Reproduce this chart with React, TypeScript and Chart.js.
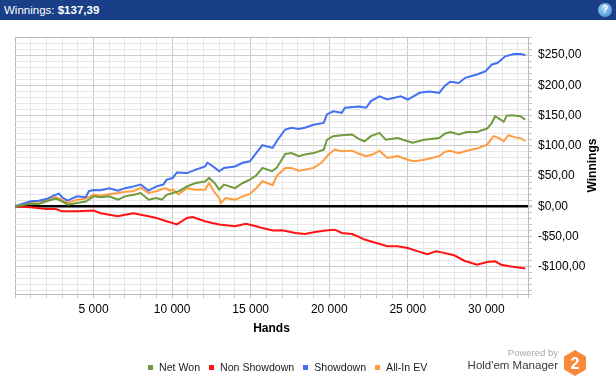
import React, { useEffect, useRef } from "react";
import { Chart, registerables } from "chart.js";

Chart.register(...registerables);

const FONT = '"Liberation Sans", Arial, sans-serif';

const seriesLabels = ["Net Won", "Non Showdown", "Showdown", "All-In EV"];
const seriesColors = ["#6f9b3c", "#ff1212", "#4170f2", "#ff9c40"];

const netWonHands = [0, 1000, 1500, 2000, 2600, 3000, 3350, 3950, 4500, 5000, 5450, 6000, 6550, 7000, 7550, 8000, 8500, 9000, 9350, 9650, 10050, 10500, 10950, 11500, 12100, 12350, 12700, 13000, 13300, 14000, 14500, 14950, 15350, 15750, 16350, 16650, 17200, 17600, 18050, 18450, 19000, 19650, 19850, 20250, 20800, 21450, 21900, 22250, 22650, 23200, 23600, 24350, 25000, 25300, 26050, 27000, 27350, 27700, 28250, 28750, 29400, 30050, 30350, 30550, 30900, 31100, 31300, 31650, 32150, 32480];
const netWonValues = [0, 4.4, 3.9, 8.3, 12.7, 8.3, 2.8, 5.5, 8, 16.5, 15, 16.5, 11, 16.5, 19, 22, 11, 13.8, 11, 19, 22, 26, 33, 38.6, 41, 47, 38.6, 27.6, 36, 30, 38.6, 44, 51, 63.5, 58, 63.5, 86.7, 88, 83, 85.6, 88, 93.8, 110, 116, 117.6, 118.7, 111, 107.6, 116, 121.4, 110, 113, 107.6, 105, 110, 113, 120, 123, 118.7, 123, 123, 128.6, 138, 149, 143.5, 139.7, 150, 150.7, 149, 143.5];

const nonShowdownHands = [0, 1000, 2000, 2600, 3000, 4000, 5000, 5450, 6000, 6550, 7000, 7550, 8000, 8500, 9000, 9650, 10300, 10600, 10950, 11300, 12100, 12550, 13000, 14000, 14700, 15350, 15750, 16400, 17000, 17850, 18450, 19100, 19750, 20350, 20800, 21450, 21850, 22250, 23000, 23700, 24350, 25000, 25650, 26250, 26800, 27300, 27950, 28600, 29400, 30050, 30550, 30950, 31450, 32050, 32480];
const nonShowdownValues = [0, -1.7, -4.4, -4.4, -8.3, -8.3, -7, -11.5, -13.8, -16.5, -13.8, -11.6, -13.8, -16.5, -19.3, -24.8, -30, -25, -19.3, -17.7, -24.8, -27.6, -30, -33, -28.7, -33, -36, -40, -39.7, -44, -45.8, -42.5, -40, -38.6, -44, -45.8, -50, -55, -60.7, -66, -66, -69, -74.5, -79, -74.5, -77, -81, -90, -96.6, -92, -91, -96.6, -99, -101, -103];

const showdownHands = [0, 1000, 1500, 2000, 2500, 2800, 3000, 3350, 3550, 3950, 4500, 4700, 5000, 5450, 6000, 6550, 7000, 7550, 8000, 8500, 9000, 9450, 9650, 10050, 10300, 10950, 11500, 12100, 12250, 12600, 13000, 13300, 14000, 14500, 14950, 15350, 15750, 16400, 16650, 17200, 17600, 18050, 18450, 19000, 19650, 19850, 20250, 20800, 21000, 21900, 22350, 22650, 23200, 23700, 24550, 25000, 25750, 26350, 27000, 27350, 27700, 28250, 28650, 29400, 29950, 30350, 30700, 31200, 31750, 32200, 32480];
const showdownValues = [0, 8.3, 9.4, 12, 18, 21, 15, 9.4, 12, 16.5, 15, 25, 27, 26.5, 30, 26, 30, 33, 36, 26, 33, 36, 44, 47, 56, 55, 60.7, 66, 72, 66, 58, 63.5, 66, 72, 74.5, 88, 101, 96.6, 107.6, 127, 130, 128, 130, 135, 138, 152, 157, 154.6, 163, 165, 163, 174, 182, 176.6, 182, 176.6, 187.7, 190, 187.7, 199, 206, 204, 212.5, 218, 223.6, 234.6, 237, 248, 252, 252, 250];

const allInEvHands = [0, 1000, 2000, 2600, 3000, 3350, 3950, 4500, 5000, 5450, 6000, 6550, 7000, 7550, 8000, 8500, 9000, 9550, 9850, 10050, 10400, 10950, 11500, 12100, 12350, 12700, 13000, 13100, 13400, 14000, 14500, 14950, 15350, 15750, 16400, 16650, 17200, 17600, 18050, 18450, 19000, 19500, 19950, 20350, 20800, 21450, 21900, 22350, 22750, 23200, 23700, 24350, 25000, 25400, 26050, 27000, 27350, 27700, 28250, 28750, 29400, 30050, 30450, 30800, 31100, 31400, 31850, 32250, 32480];
const allInEvValues = [0, 6.6, 9.4, 15, 11, 5.5, 11, 12.7, 19, 18, 20, 22, 24, 25, 31, 22, 25, 30, 26, 27.6, 20, 30, 27.6, 27.6, 38.6, 23, 13.8, 5.5, 13.8, 11, 16.5, 20.4, 30, 41.4, 35, 50, 63.5, 63.5, 59, 60.7, 63.5, 72, 85.6, 94, 91, 92, 87, 83, 85.6, 92, 80, 83, 77, 74.5, 77, 83, 90, 92, 88, 92, 95.5, 102, 116, 113, 107.6, 117.6, 114, 112, 107.6];

const seriesHands = [netWonHands, nonShowdownHands, showdownHands, allInEvHands];
const seriesValues = [netWonValues, nonShowdownValues, showdownValues, allInEvValues];

const xMin = 0;
const xMax = 32650;
const xStep = 1000;
const xLabelEvery = 5000;
const yMin = -145;
const yMax = 280;
const yStep = 10;
const yLabelEvery = 50;

const headerLabel = "Winnings:";
const headerValue = "$137,39";
const xTitle = "Hands";
const yTitle = "Winnings";

const MAJOR = "#cbcbcb";
const MINOR = "#e6e6e6";
const BORDER = "#b9b9b9";

function stepTicks(min: number, max: number, step: number) {
  const out: number[] = [min];
  const first = Math.ceil(min / step) * step;
  for (let v = first; v <= max; v += step) if (v !== min) out.push(v);
  if (out[out.length - 1] !== max) out.push(max);
  return out;
}

function fmtMoney(v: number) {
  const a = Math.abs(v);
  return (v < 0 ? "-$" : "$") + a + ",00";
}
function fmtHands(v: number) {
  return Math.floor(v / 1000) + " 000";
}

const yTitlePlugin = {
  id: "yTitleLeftReading",
  afterDraw(chart: any) {
    const { ctx, chartArea } = chart;
    ctx.save();
    ctx.translate(593, (chartArea.top + chartArea.bottom) / 2);
    ctx.rotate(-Math.PI / 2);
    ctx.font = "bold 12px " + FONT;
    ctx.fillStyle = "#000";
    ctx.textAlign = "center";
    ctx.textBaseline = "middle";
    ctx.fillText(yTitle, 0, 0);
    ctx.restore();
  },
};

export default function App() {
  const ref = useRef<HTMLCanvasElement | null>(null);

  useEffect(() => {
    document.body.style.margin = "0";
    const canvas = ref.current;
    if (!canvas) return;
    const chart = new Chart(canvas, {
      type: "line",
      data: {
        datasets: seriesLabels.map((label, i) => ({
          label,
          data: seriesHands[i].map((h, j) => ({ x: h, y: seriesValues[i][j] })),
          borderColor: seriesColors[i],
          backgroundColor: seriesColors[i],
          borderWidth: 2,
          pointRadius: 0,
          tension: 0,
          fill: false,
        })),
      },
      options: {
        responsive: false,
        animation: false,
        events: [],
        layout: { padding: { left: 15, top: 37, right: 0, bottom: 0 } },
        plugins: { legend: { display: false }, tooltip: { enabled: false }, title: { display: false } },
        scales: {
          x: {
            type: "linear",
            min: xMin,
            max: xMax,
            afterBuildTicks: (s: any) => {
              s.ticks = stepTicks(xMin, xMax, xStep).map((v) => ({ value: v }));
            },
            afterFit: (s: any) => {
              s.height = 86;
            },
            border: { color: BORDER, width: 1 },
            grid: {
              color: (c: any) => {
                const v = c.tick ? c.tick.value : 0;
                if (v === xMin || v === xMax) return BORDER;
                return v % xLabelEvery === 0 ? MAJOR : MINOR;
              },
              tickColor: "#c4c4c4",
              tickLength: 4,
            },
            ticks: {
              autoSkip: false,
              maxRotation: 0,
              minRotation: 0,
              padding: 4,
              color: "#000",
              font: { family: FONT, size: 12 },
              callback: (v: any) => {
                const n = Number(v);
                return n > 0 && n % xLabelEvery === 0 ? fmtHands(n) : "";
              },
            },
            title: {
              display: true,
              text: xTitle,
              color: "#000",
              font: { family: FONT, size: 12, weight: "bold" },
              padding: { top: 0, bottom: 44 },
            },
          },
          y: {
            type: "linear",
            position: "right",
            min: yMin,
            max: yMax,
            afterBuildTicks: (s: any) => {
              s.ticks = stepTicks(yMin, yMax, yStep).map((v) => ({ value: v }));
            },
            afterFit: (s: any) => {
              s.width = 88;
            },
            border: { color: BORDER, width: 1 },
            grid: {
              color: (c: any) => {
                const v = c.tick ? c.tick.value : 1;
                if (v === 0) return "#000";
                if (v === yMin || v === yMax) return BORDER;
                return v % yLabelEvery === 0 ? MAJOR : MINOR;
              },
              lineWidth: (c: any) => (c.tick && c.tick.value === 0 ? 2.5 : 1),
              tickColor: "#c4c4c4",
              tickLength: 4,
            },
            ticks: {
              autoSkip: false,
              padding: 6,
              color: "#000",
              font: { family: FONT, size: 12 },
              callback: (v: any) => {
                const n = Number(v);
                return n % yLabelEvery === 0 ? fmtMoney(n) : "";
              },
            },
          },
        },
      },
      plugins: [yTitlePlugin],
    } as any);
    return () => chart.destroy();
  }, []);

  return (
    <div style={{ position: "absolute", left: 0, top: 0, width: 616, height: 380, background: "#fff", overflow: "hidden", fontFamily: FONT }}>
      <canvas ref={ref} width={616} height={380} style={{ position: "absolute", left: 0, top: 0, width: 616, height: 380 }} />
      <div style={{ position: "absolute", left: 0, top: 0, width: 616, height: 20, background: "#183f88", color: "#fff", fontSize: 11.5, lineHeight: "20px", paddingLeft: 4, boxSizing: "border-box" }}>
        <span>{headerLabel} </span>
        <span style={{ fontWeight: "bold" }}>{headerValue}</span>
        <div style={{ position: "absolute", left: 598, top: 3, width: 14, height: 14, borderRadius: 7, background: "radial-gradient(circle at 40% 35%, #9fd0f5, #3a86d6)", color: "#fff", fontSize: 10, fontWeight: "bold", lineHeight: "14px", textAlign: "center" }}>?</div>
      </div>
      <div style={{ position: "absolute", left: 148, top: 359, height: 16, display: "flex", alignItems: "center", fontSize: 10.6, color: "#1a1a1a", whiteSpace: "nowrap" }}>
        {seriesLabels.map((l, i) => (
          <div key={l} style={{ display: "flex", alignItems: "center", marginRight: 9 }}>
            <span style={{ display: "inline-block", width: 5, height: 5, background: seriesColors[i], marginRight: 6 }} />
            <span>{l}</span>
          </div>
        ))}
      </div>
      <div style={{ position: "absolute", left: 440, top: 347, width: 118, textAlign: "right", fontSize: 9.5, color: "#a8a8a8", lineHeight: "12px" }}>Powered by</div>
      <div style={{ position: "absolute", left: 420, top: 358, width: 138, textAlign: "right", fontSize: 11.5, color: "#3a3a3a", lineHeight: "14px" }}>Hold'em Manager</div>
      <svg width={24} height={26} viewBox="0 0 24 26" style={{ position: "absolute", left: 563, top: 350 }}>
        <polygon points="12,0 23,6.5 23,19.5 12,26 1,19.5 1,6.5" fill="#f7893b" />
        <text x={12} y={19} textAnchor="middle" fill="#fff" fontSize={16} fontWeight="bold" fontFamily={FONT}>2</text>
      </svg>
    </div>
  );
}
